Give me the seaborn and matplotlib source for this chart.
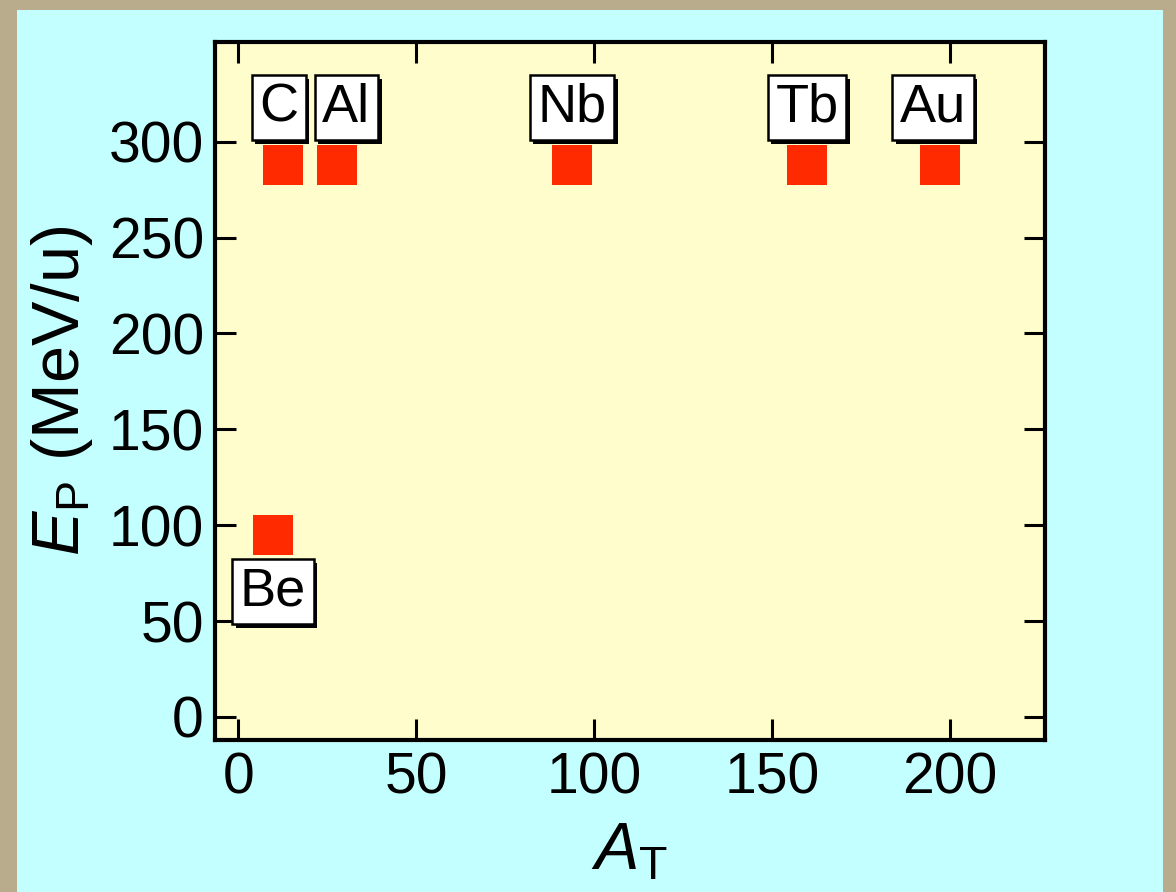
import pandas as pd
import matplotlib.pyplot as plt
import matplotlib.patches as mpatches
import matplotlib.patheffects as pe
import seaborn as sns

# targets, mass number and beam energy
targets = ["Be", "C", "Al", "Nb", "Tb", "Au"]
mass_number = [9.8, 12.6, 27.7, 93.8, 159.8, 197.2]
energy = [95, 288, 288, 288, 288, 288]

df = pd.DataFrame({"target": targets, "A": mass_number, "E": energy})

sns.set_theme(style="ticks")
plt.rcParams["font.family"] = ["Liberation Sans", "DejaVu Sans"]
plt.rcParams["mathtext.fontset"] = "custom"
plt.rcParams["mathtext.rm"] = "Liberation Sans"
plt.rcParams["mathtext.it"] = "Liberation Sans:italic"
plt.rcParams["text.color"] = "black"
plt.rcParams["axes.labelcolor"] = "black"

fig = plt.figure(figsize=(11.76, 8.92), dpi=100, facecolor="#B9AC8C")
fig.patches.append(mpatches.Rectangle((17 / 1176, 0), (1163 - 17) / 1176, 882 / 892,
                                      transform=fig.transFigure, facecolor="#C4FFFF",
                                      edgecolor="none", zorder=-10))
ax = fig.add_axes([215 / 1176, 1 - 740 / 892, (1045 - 215) / 1176, (740 - 42) / 892])
ax.set_facecolor("#FFFDCC")

sns.scatterplot(data=df, x="A", y="E", marker="s", s=830, color="#FF2A00",
                linewidth=0, ax=ax, zorder=3)

# small sideways nudges so the C and Al boxes don't touch
nudge = {"C": -3, "Al": 7, "Au": -5}
for name, a, e in zip(targets, mass_number, energy):
    dy = -41 if name == "Be" else 41
    t = ax.annotate(name, (a, e), xytext=(nudge.get(name, 0), dy),
                    textcoords="offset points",
                    ha="center", va="center", fontsize=39, color="black",
                    bbox=dict(boxstyle="square,pad=0.14", facecolor="white",
                              edgecolor="black", linewidth=1.8), zorder=4)
    t.get_bbox_patch().set_path_effects([
        pe.SimplePatchShadow(offset=(2.5, -2.5), shadow_rgbFace="black", alpha=1),
        pe.Normal()])

ax.set_xlim(-6.5, 226.7)
ax.set_ylim(-12, 352)
ax.set_xticks([0, 50, 100, 150, 200])
ax.set_yticks([0, 50, 100, 150, 200, 250, 300])

for side in ax.spines.values():
    side.set_linewidth(3)
    side.set_color("black")
ax.tick_params(direction="in", length=15, width=2.2, labelsize=41, colors="black",
               top=True, right=True, pad=8)

ax.set_xlabel(r"$A_\mathrm{T}$", fontsize=48, labelpad=12)
ax.set_ylabel(r"$E_\mathrm{P}$ (MeV/u)", fontsize=48, labelpad=10)

fig.savefig("out.png", dpi=100, facecolor=fig.get_facecolor())
